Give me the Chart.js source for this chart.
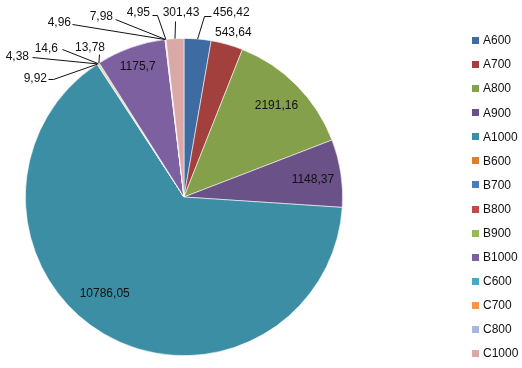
<!DOCTYPE html>
<html>
<head>
<meta charset="utf-8">
<script src="https://cdn.jsdelivr.net/npm/chart.js@4/dist/chart.umd.min.js"></script>
<style>
html,body{margin:0;padding:0;background:#fff;}
#c{display:block;}
</style>
</head>
<body>
<canvas id="c" width="522" height="368"></canvas>
<script>
// ---- data ----
const categories = ['A600','A700','A800','A900','A1000','B600','B700','B800','B900','B1000','C600','C700','C800','C1000'];
const values = [456.42, 543.64, 2191.16, 1148.37, 10786.05, 9.92, 4.38, 14.6, 13.78, 1175.7, 4.96, 7.98, 4.95, 301.43];

// ---- styles ----
const colors = ['#3E6BA2','#A2403D','#84A04A','#6A5188','#3C8EA4','#D97F30',
                '#4A7EBB','#BE4B48','#98B954','#7D60A0','#46AAC5','#F79646','#A8B8DB','#D9A8A7'];

// label layout (relative to pie centre); inside labels use polar placement
const labelLayout = {
  0: {t:[29,-184], align:'left', pts:[[20,-181],[27,-181]]},
  1: {t:[31,-164], align:'left'},
  2: {r:0.82},
  3: {r:0.82, da:1},
  4: {r:0.79, da:9},
  5: {t:[-137,-118], align:'right', pts:[[-131,-118],[-136,-118]]},
  6: {t:[-155,-140], align:'right', pts:[[-152,-140]]},
  7: {t:[-126,-148], align:'right', pts:[[-122,-148]]},
  8: {t:[-94,-149], align:'center', pts:[[-85,-143]]},
  9: {r:0.87},
  10:{t:[-113,-174], align:'right', pts:[[-112,-173]]},
  11:{t:[-71,-180], align:'right', pts:[[-69,-178]]},
  12:{t:[-34,-184], align:'right', pts:[[-27,-182],[-32,-182]]},
  13:{t:[-3,-184], align:'center', pts:[[-9,-176]]}
};

const FONT = '12px "Liberation Sans", Arial, sans-serif';
const fmt = v => String(v).replace('.', ',');

const labelPlugin = {
  id: 'excelLabels',
  afterDatasetsDraw(chart) {
    const ctx = chart.ctx;
    const meta = chart.getDatasetMeta(0);
    ctx.save();
    ctx.font = FONT;
    ctx.fillStyle = '#111';
    ctx.strokeStyle = '#111';
    ctx.lineWidth = 1;
    ctx.textBaseline = 'middle';
    meta.data.forEach((arc, i) => {
      const L = labelLayout[i];
      const cx = arc.x, cy = arc.y, R = arc.outerRadius;
      const mid = (arc.startAngle + arc.endAngle) / 2;
      const txt = fmt(chart.data.datasets[0].data[i]);
      if (L.r !== undefined) {
        const a = mid + (L.da || 0) * Math.PI / 180;
        ctx.textAlign = 'center';
        ctx.fillText(txt, cx + Math.cos(a) * R * L.r, cy + Math.sin(a) * R * L.r);
        return;
      }
      if (L.pts) {
        ctx.beginPath();
        ctx.moveTo(cx + Math.cos(mid) * R, cy + Math.sin(mid) * R);
        L.pts.forEach(p => ctx.lineTo(cx + p[0] + 0.5, cy + p[1] + 0.5));
        ctx.stroke();
      }
      ctx.textAlign = L.align;
      ctx.fillText(txt, cx + L.t[0], cy + L.t[1]);
    });
    ctx.restore();
  }
};

const legendPlugin = {
  id: 'sideLegend',
  afterDraw(chart) {
    const ctx = chart.ctx;
    ctx.save();
    ctx.font = FONT;
    ctx.textBaseline = 'middle';
    ctx.textAlign = 'left';
    chart.data.labels.forEach((lab, i) => {
      const y = 40.5 + i * 24.08;
      ctx.fillStyle = chart.data.datasets[0].backgroundColor[i];
      ctx.fillRect(472, Math.round(y - 3.5), 7, 7);
      ctx.fillStyle = '#111';
      ctx.fillText(lab, 483, y + 0.5);
    });
    ctx.restore();
  }
};

new Chart(document.getElementById('c'), {
  type: 'pie',
  data: {
    labels: categories,
    datasets: [{
      data: values,
      backgroundColor: colors,
      borderColor: 'rgba(255,255,255,0.7)',
      borderWidth: 0.8
    }]
  },
  options: {
    responsive: false,
    animation: false,
    events: [],
    layout: { padding: { left: 25, right: 179, top: 38, bottom: 12 } },
    plugins: { legend: { display: false }, tooltip: { enabled: false } }
  },
  plugins: [labelPlugin, legendPlugin]
});
</script>
</body>
</html>
